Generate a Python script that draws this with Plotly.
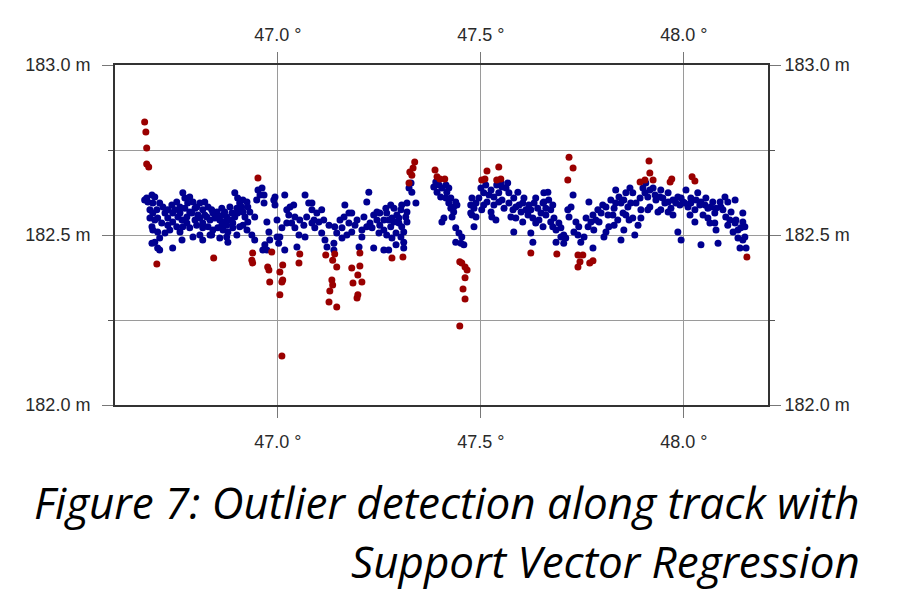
import plotly.graph_objects as go

# along-track points kept by the SVR fit (inliers)
blue_lon = [
    46.677, 46.690, 46.697, 46.680, 46.692, 46.709, 46.717, 46.702, 46.692, 46.685,
    46.690, 46.692, 46.704, 46.714, 46.722, 46.729, 46.739, 46.741, 46.751, 46.759,
    46.766, 46.771, 46.778, 46.783, 46.791, 46.800, 46.808, 46.820, 46.828, 46.837,
    46.850, 46.862, 46.869, 46.882, 46.894, 46.901, 46.906, 46.914, 46.924, 46.926,
    46.729, 46.741, 46.754, 46.764, 46.776, 46.788, 46.796, 46.808, 46.820, 46.833,
    46.845, 46.857, 46.869, 46.882, 46.894, 46.901, 46.914, 46.734, 46.751, 46.766,
    46.783, 46.800, 46.815, 46.828, 46.840, 46.852, 46.865, 46.877, 46.889, 46.906,
    46.709, 46.697, 46.690, 46.704, 46.741, 46.764, 46.791, 46.815, 46.837, 46.857,
    46.877, 46.899, 46.924, 46.936, 46.943, 46.948, 46.951, 46.956, 46.943, 46.963,
    46.709, 46.961, 46.966, 46.973, 46.978, 46.980, 46.973, 46.990, 46.993, 46.998,
    47.002, 47.017, 47.022, 47.027, 47.010, 47.005, 47.017, 47.039, 47.034, 47.042,
    47.052, 47.047, 47.067, 47.076, 47.071, 47.084, 47.089, 47.096, 47.091, 47.108,
    47.113, 47.108, 47.116, 47.121, 47.138, 47.145, 47.158, 47.163, 47.165, 47.175,
    47.170, 47.182, 47.190, 47.200, 47.207, 47.212, 47.219, 47.224, 47.227, 47.236,
    47.244, 47.251, 47.236, 47.261, 47.249, 47.261, 46.968, 47.278, 47.286, 47.268,
    47.281, 47.293, 47.305, 47.303, 47.315, 47.298, 47.278, 47.268, 47.291, 47.303,
    47.318, 47.318, 47.310, 47.291, 47.273, 47.310, 47.340, 47.330, 47.328, 47.323,
    47.384, 47.392, 47.404, 47.414, 47.416, 47.401, 47.414, 47.421, 47.426, 47.433,
    47.441, 47.429, 47.409, 47.404, 47.438, 47.446, 47.453, 47.438, 47.451, 47.458,
    47.475, 47.483, 47.478, 47.483, 47.495, 47.500, 47.507, 47.512, 47.525, 47.515,
    47.502, 47.525, 47.532, 47.537, 47.539, 47.544, 47.552, 47.557, 47.562, 47.549,
    47.566, 47.569, 47.579, 47.581, 47.591, 47.594, 47.586, 47.581, 47.606, 47.611,
    47.603, 47.618, 47.628, 47.623, 47.628, 47.635, 47.640, 47.643, 47.653, 47.655,
    47.665, 47.667, 47.672, 47.660, 47.653, 47.672, 47.680, 47.685, 47.692, 47.697,
    47.685, 47.704, 47.709, 47.714, 47.722, 47.727, 47.734, 47.729, 47.739, 47.746,
    47.754, 47.764, 47.759, 47.766, 47.776, 47.778, 47.776, 47.788, 47.791, 47.800,
    47.803, 47.813, 47.815, 47.820, 47.828, 47.832, 47.837, 47.845, 47.850, 47.852,
    47.857, 47.862, 47.865, 47.845, 47.867, 47.869, 47.874, 47.879, 47.887, 47.894,
    47.899, 47.906, 47.911, 47.916, 47.924, 47.931, 47.936, 47.943, 47.953, 47.961,
    47.968, 47.973, 47.985, 47.990, 47.998, 47.985, 47.993, 48.005, 48.010, 48.017,
    48.027, 48.034, 48.039, 48.047, 48.054, 48.059, 48.064, 48.071, 48.076, 48.079,
    48.084, 48.042, 48.091, 48.101, 48.103, 48.108, 48.116, 48.121, 48.128, 48.133,
    48.145, 48.140, 48.138, 48.150, 48.153, 48.145, 48.126,
    46.672, 46.685, 46.697, 46.704, 46.722, 46.729, 46.746, 46.759, 46.771, 46.783,
    46.796, 46.803, 46.815, 46.825, 46.840, 46.852, 46.865, 46.874, 46.887, 46.899,
    46.911, 46.919, 46.926, 46.931, 46.889, 46.874, 46.862, 46.815, 46.776, 46.759,
    46.833, 46.808, 46.874, 46.914,
    46.966, 46.993, 47.030, 47.042, 47.054, 47.064, 47.084, 47.101, 47.084, 47.126,
    47.140, 47.153, 47.175, 47.182, 47.195, 47.207, 47.219, 47.232, 47.244, 47.251,
    47.261, 47.158, 47.138, 47.067, 47.022, 46.998,
    47.266, 47.273, 47.286, 47.298, 47.305, 47.310, 47.281, 47.318, 47.389, 47.397,
    47.421, 47.426, 47.438, 47.433, 47.478, 47.475, 47.488, 47.507, 47.520, 47.532,
    47.544, 47.552, 47.527, 47.488,
    47.569, 47.574, 47.586, 47.599, 47.603, 47.616, 47.623, 47.631, 47.635, 47.648,
    47.655, 47.660, 47.677, 47.677, 47.697, 47.704, 47.717, 47.741, 47.771, 47.783,
    47.796, 47.808, 47.825, 47.832, 47.840, 47.852, 47.857, 47.828, 47.808,
    47.874, 47.882, 47.892, 47.904, 47.916, 47.929, 47.941, 47.948, 47.961, 47.973,
    47.980, 47.993, 48.002, 48.017, 48.030, 48.042, 48.052, 48.066, 48.079, 48.089,
    48.096, 48.108, 48.113, 48.126, 48.133, 48.145, 48.150, 48.076, 48.059, 48.027,
    48.015, 47.961, 47.943, 47.911, 47.894,
]
blue_height = [
    182.609, 182.618, 182.612, 182.597, 182.594, 182.594, 182.582, 182.574, 182.565, 182.550,
    182.524, 182.515, 182.550, 182.535, 182.565, 182.574, 182.588, 182.565, 182.597, 182.582,
    182.624, 182.609, 182.594, 182.612, 182.597, 182.582, 182.594, 182.597, 182.582, 182.574,
    182.568, 182.579, 182.568, 182.582, 182.624, 182.609, 182.594, 182.603, 182.597, 182.582,
    182.550, 182.538, 182.553, 182.544, 182.553, 182.565, 182.544, 182.550, 182.559, 182.544,
    182.550, 182.544, 182.538, 182.544, 182.553, 182.565, 182.568, 182.515, 182.524, 182.524,
    182.521, 182.529, 182.521, 182.524, 182.515, 182.521, 182.515, 182.509, 182.521, 182.524,
    182.491, 182.479, 182.476, 182.462, 182.462, 182.485, 182.494, 182.485, 182.500, 182.491,
    182.479, 182.500, 182.515, 182.500, 182.553, 182.603, 182.632, 182.618, 182.485, 182.456,
    182.456, 182.638, 182.594, 182.538, 182.509, 182.485, 182.456, 182.603, 182.588, 182.544,
    182.476, 182.618, 182.574, 182.559, 182.521, 182.494, 182.456, 182.588, 182.535, 182.521,
    182.500, 182.465, 182.618, 182.594, 182.553, 182.574, 182.544, 182.565, 182.521, 182.574,
    182.544, 182.506, 182.485, 182.465, 182.476, 182.506, 182.521, 182.553, 182.588, 182.565,
    182.500, 182.509, 182.529, 182.465, 182.494, 182.553, 182.597, 182.626, 182.535, 182.559,
    182.568, 182.529, 182.462, 182.456, 182.506, 182.544, 182.471, 182.588, 182.579, 182.565,
    182.550, 182.559, 182.588, 182.574, 182.553, 182.535, 182.524, 182.500, 182.506, 182.494,
    182.538, 182.594, 182.479, 182.471, 182.456, 182.462, 182.594, 182.626, 182.653, 182.638,
    182.641, 182.626, 182.638, 182.647, 182.626, 182.612, 182.609, 182.594, 182.579, 182.568,
    182.588, 182.553, 182.550, 182.538, 182.521, 182.506, 182.494, 182.479, 182.476, 182.471,
    182.588, 182.579, 182.559, 182.524, 182.609, 182.638, 182.624, 182.647, 182.632, 182.597,
    182.574, 182.568, 182.588, 182.544, 182.647, 182.624, 182.603, 182.579, 182.638, 182.656,
    182.653, 182.594, 182.574, 182.609, 182.626, 182.588, 182.550, 182.509, 182.609, 182.574,
    182.538, 182.588, 182.550, 182.506, 182.479, 182.609, 182.579, 182.544, 182.594, 182.624,
    182.626, 182.603, 182.574, 182.559, 182.524, 182.538, 182.550, 182.515, 182.535, 182.494,
    182.479, 182.476, 182.491, 182.574, 182.582, 182.618, 182.538, 182.509, 182.500, 182.479,
    182.494, 182.524, 182.550, 182.597, 182.559, 182.515, 182.462, 182.574, 182.538, 182.588,
    182.494, 182.559, 182.524, 182.603, 182.579, 182.632, 182.544, 182.594, 182.565, 182.515,
    182.624, 182.582, 182.544, 182.485, 182.638, 182.594, 182.550, 182.500, 182.529, 182.574,
    182.638, 182.653, 182.612, 182.582, 182.638, 182.603, 182.568, 182.632, 182.594, 182.624,
    182.579, 182.559, 182.612, 182.588, 182.597, 182.509, 182.485, 182.632, 182.582, 182.609,
    182.574, 182.624, 182.588, 182.559, 182.609, 182.579, 182.535, 182.597, 182.565, 182.515,
    182.476, 182.471, 182.582, 182.612, 182.553, 182.529, 182.568, 182.509, 182.544, 182.491,
    182.565, 182.521, 182.462, 182.524, 182.462, 182.485, 182.603,
    182.603, 182.574, 182.544, 182.509, 182.506, 182.529, 182.574, 182.565, 182.579, 182.568,
    182.579, 182.559, 182.574, 182.553, 182.565, 182.553, 182.559, 182.553, 182.565, 182.579,
    182.582, 182.553, 182.538, 182.568, 182.535, 182.529, 182.529, 182.535, 182.535, 182.509,
    182.500, 182.500, 182.494, 182.529,
    182.618, 182.612, 182.582, 182.553, 182.544, 182.529, 182.535, 182.538, 182.594, 182.529,
    182.524, 182.544, 182.535, 182.565, 182.544, 182.515, 182.524, 182.521, 182.544, 182.565,
    182.515, 182.491, 182.456, 182.494, 182.535, 182.494,
    182.579, 182.544, 182.538, 182.550, 182.524, 182.509, 182.491, 182.568, 182.656, 182.647,
    182.638, 182.609, 182.597, 182.582, 182.609, 182.565, 182.594, 182.588, 182.618, 182.612,
    182.597, 182.641, 182.553, 182.553,
    182.624, 182.553, 182.582, 182.568, 182.594, 182.559, 182.574, 182.594, 182.535, 182.565,
    182.597, 182.579, 182.588, 182.524, 182.521, 182.500, 182.553, 182.524, 182.538, 182.544,
    182.565, 182.582, 182.559, 182.594, 182.612, 182.603, 182.559, 182.529, 182.509,
    182.624, 182.594, 182.609, 182.624, 182.632, 182.618, 182.612, 182.609, 182.597, 182.603,
    182.594, 182.609, 182.594, 182.594, 182.603, 182.597, 182.588, 182.582, 182.579, 182.597,
    182.574, 182.597, 182.544, 182.535, 182.515, 182.538, 182.494, 182.535, 182.550, 182.538,
    182.559, 182.568, 182.574, 182.574, 182.550,
]

# points flagged as outliers
red_lon = [
    46.672, 46.675, 46.677, 46.677, 46.682, 46.702, 46.842, 46.951, 46.938, 46.936,
    46.938, 46.978, 46.975, 46.980, 46.985, 47.005, 47.012, 47.010, 47.012, 47.005,
    47.010, 47.054, 47.052, 47.118, 47.135, 47.145, 47.133, 47.128, 47.126, 47.145,
    47.135, 47.140, 47.202, 47.202, 47.182, 47.197, 47.185, 47.207, 47.197, 47.195,
    47.281, 47.308, 47.325, 47.330, 47.333, 47.337, 47.323, 47.387, 47.392, 47.399,
    47.411, 47.448, 47.453, 47.461, 47.466, 47.461, 47.456, 47.461, 47.448, 47.515,
    47.510, 47.502, 47.544, 47.549, 47.539, 47.623, 47.717, 47.727, 47.714, 47.687,
    47.739, 47.744, 47.751, 47.739, 47.768, 47.776, 47.914, 47.916, 47.892, 47.904,
    47.924, 47.970, 47.966, 48.020, 48.027, 48.155,
]
red_height = [
    182.832, 182.803, 182.756, 182.709, 182.700, 182.415, 182.432, 182.668, 182.447, 182.426,
    182.418, 182.397, 182.406, 182.362, 182.450, 182.391, 182.412, 182.362, 182.368, 182.324,
    182.144, 182.444, 182.418, 182.441, 182.426, 182.406, 182.368, 182.335, 182.303, 182.288,
    182.353, 182.444, 182.447, 182.409, 182.403, 182.382, 182.359, 182.362, 182.324, 182.315,
    182.432, 182.435, 182.685, 182.676, 182.697, 182.715, 182.653, 182.691, 182.671, 182.665,
    182.665, 182.421, 182.418, 182.406, 182.397, 182.374, 182.341, 182.312, 182.232, 182.688,
    182.665, 182.662, 182.700, 182.665, 182.662, 182.447, 182.729, 182.697, 182.662, 182.444,
    182.406, 182.421, 182.441, 182.441, 182.418, 182.424, 182.718, 182.682, 182.656, 182.662,
    182.662, 182.665, 182.656, 182.671, 182.659, 182.435,
]

lon_ticks = [47.0, 47.5, 48.0]
height_ticks = [182.0, 182.5, 183.0]
height_minor = [182.25, 182.75]
lon_range = [46.599, 48.207]
height_range = [182.0, 183.0]

caption_1 = "Figure 7: Outlier detection along track with"
caption_2 = "Support Vector Regression"

BLUE = "#000090"
RED = "#9a0000"
tick_font = dict(family="Liberation Sans, Arial", size=18, color="#2a2a2a")
lon_text = [f"{v:.1f} °" for v in lon_ticks]
height_text = [f"{v:.1f} m" for v in height_ticks]

fig = go.Figure()
fig.add_trace(go.Scatter(
    x=blue_lon, y=blue_height, mode="markers",
    marker=dict(size=7, color=BLUE), showlegend=False, hoverinfo="skip"
))
fig.add_trace(go.Scatter(
    x=red_lon, y=red_height, mode="markers", xaxis="x2", yaxis="y2",
    marker=dict(size=7, color=RED), showlegend=False, hoverinfo="skip"
))

x_common = dict(
    range=lon_range, tickmode="array", tickvals=lon_ticks, ticktext=lon_text,
    showgrid=True, gridcolor="#9a9a9a", gridwidth=1, zeroline=False,
    showline=True, linecolor="#333333", linewidth=2,
    ticks="outside", ticklen=11, tickcolor="#777777", tickwidth=1,
    ticklabelstandoff=8, tickfont=tick_font,
)
y_common = dict(
    range=height_range, tickmode="array", tickvals=height_ticks, ticktext=height_text,
    showgrid=True, gridcolor="#9a9a9a", gridwidth=1, zeroline=False,
    showline=True, linecolor="#333333", linewidth=2,
    ticks="outside", ticklen=11, tickcolor="#777777", tickwidth=1,
    ticklabelstandoff=8, tickfont=tick_font,
    minor=dict(tickvals=height_minor, ticks="outside", ticklen=5,
               tickcolor="#555555", showgrid=True, gridcolor="#9a9a9a", gridwidth=1),
)

fig.update_layout(
    width=906, height=594,
    margin=dict(l=115, r=138, t=65, b=189),
    paper_bgcolor="white", plot_bgcolor="white",
    xaxis={**x_common, "side": "bottom"},
    yaxis={**y_common, "side": "left"},
    xaxis2={**x_common, "side": "top", "overlaying": "x", "showgrid": False,
            "ticklabelstandoff": 4},
    yaxis2={**y_common, "side": "right", "overlaying": "y", "showgrid": False,
            "ticklabelstandoff": 0,
            "minor": dict(tickvals=height_minor, ticks="outside", ticklen=5,
                          tickcolor="#555555", showgrid=False)},
)

cap_font = dict(family="Open Sans", size=44, color="black")
fig.add_annotation(text="<i>" + caption_1 + "</i>", xref="paper", yref="paper",
                   x=1.144, y=-0.285, xanchor="right", yanchor="middle",
                   showarrow=False, font=cap_font)
fig.add_annotation(text="<i>" + caption_2 + "</i>", xref="paper", yref="paper",
                   x=1.144, y=-0.459, xanchor="right", yanchor="middle",
                   showarrow=False, font=cap_font)

fig.write_html("out.html", config={"displayModeBar": False},
               post_script="document.body.style.margin = '0px';")
